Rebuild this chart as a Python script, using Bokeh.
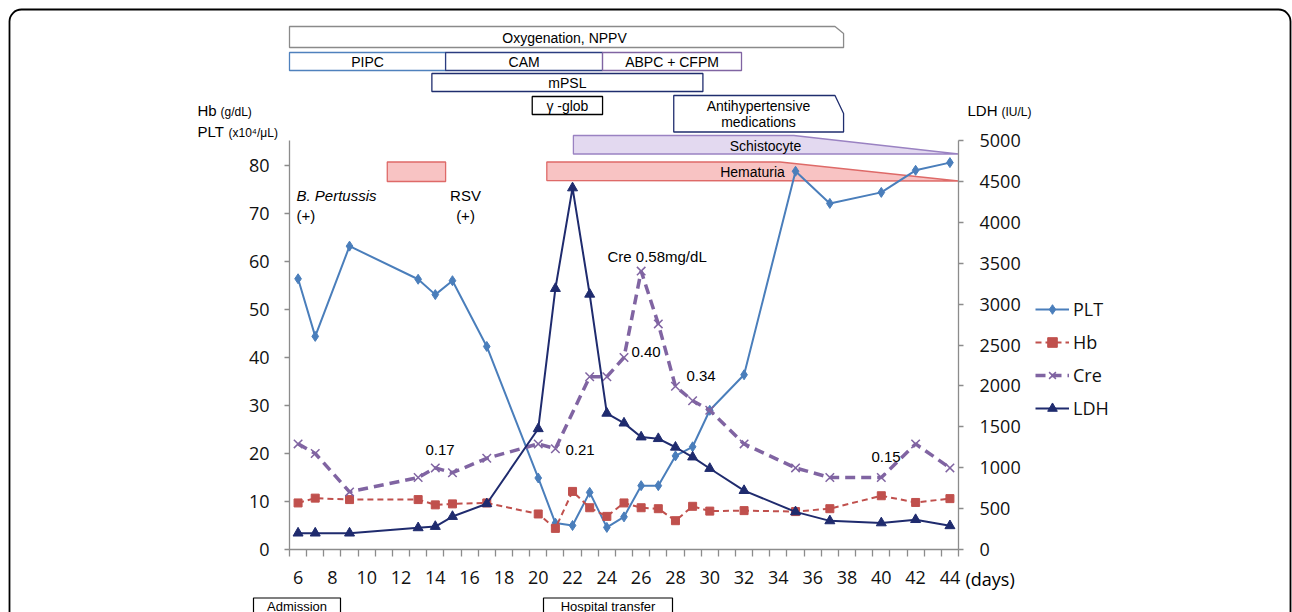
from bokeh.plotting import figure
from bokeh.models import (Range1d, LinearAxis, FixedTicker, Legend, LegendItem,
                          Label, BoxAnnotation)
from bokeh.embed import file_html
from bokeh.resources import INLINE

# ---------------- data ----------------
days_plt = [6, 7, 9, 13, 14, 15, 17, 20, 21, 22, 23, 24, 25, 26, 27, 28, 29, 30, 32, 35, 37, 40, 42, 44]
plt_vals = [56.4, 44.4, 63.2, 56.3, 53.1, 56.0, 42.3, 14.9, 5.5, 5.0, 11.9, 4.6, 6.8, 13.3, 13.3,
            19.5, 21.4, 29.0, 36.4, 78.8, 72.1, 74.4, 79.0, 80.6]

days_hb = [6, 7, 9, 13, 14, 15, 17, 20, 21, 22, 23, 24, 25, 26, 27, 28, 29, 30, 32, 35, 37, 40, 42, 44]
hb_vals = [9.7, 10.7, 10.4, 10.4, 9.3, 9.5, 9.7, 7.4, 4.4, 12.1, 8.7, 6.9, 9.7, 8.7, 8.5,
           6.0, 9.0, 8.0, 8.1, 7.9, 8.5, 11.2, 9.8, 10.6]

days_cre = [6, 7, 9, 13, 14, 15, 17, 20, 21, 23, 24, 25, 26, 27, 28, 29, 30, 32, 35, 37, 40, 42, 44]
cre_vals = [0.22, 0.20, 0.12, 0.15, 0.17, 0.16, 0.19, 0.22, 0.21, 0.36, 0.36, 0.40, 0.58, 0.47,
            0.34, 0.31, 0.29, 0.22, 0.17, 0.15, 0.15, 0.22, 0.17]   # mg/dL, drawn x100 on left axis

days_ldh = [6, 7, 9, 13, 14, 15, 17, 20, 21, 22, 23, 24, 25, 26, 27, 28, 29, 30, 32, 35, 37, 40, 42, 44]
ldh_vals = [200, 200, 200, 265, 281, 403, 559, 1476, 3190, 4420, 3120, 1665, 1545, 1375, 1355,
            1250, 1130, 990, 720, 460, 350, 325, 365, 290]

x_ticks = list(range(6, 45, 2))
left_ticks = list(range(0, 81, 10))
right_ticks = list(range(0, 5001, 500))

# treatment / finding timeline (days)
abx_names = ["PIPC", "CAM", "ABPC + CFPM"]
abx_start = [5.5, 14.6, 23.75]
abx_end = [14.6, 23.75, 31.85]
oxy_start, oxy_end = 5.5, 37.8
mpsl_start, mpsl_end = 13.8, 29.6
glob_start, glob_end = 19.65, 23.75
antihyp_start, antihyp_end = 27.9, 37.8
schisto_start, schisto_full, schisto_end = 22.05, 34.9, 44.5
hema_start, hema_full, hema_end = 20.5, 34.1, 44.5
rsv_start, rsv_end = 11.2, 14.6

# ---------------- layout ----------------
W, H = 1292, 612
AX_L, AX_R, AX_T, AX_B = 289, 958, 140, 549     # page pixels of the axes box
X_LO, X_HI = 5.5, 44.5
PX_DAY = (AX_R - AX_L) / (X_HI - X_LO)
PX_UNIT_L = 4.8
PX_UNIT_R = (AX_B - AX_T) / 5000.0


def X(px):
    return X_LO + (px - AX_L) / PX_DAY


p = figure(width=W, height=H, output_backend="svg", toolbar_location=None,
           x_range=Range1d(X(0), X(W)),
           y_range=Range1d((AX_B - H) / PX_UNIT_L, AX_B / PX_UNIT_L),
           min_border=0, min_border_left=0, min_border_right=0,
           min_border_top=0, min_border_bottom=0)
p.extra_y_ranges = {"ldh": Range1d((AX_B - H) / PX_UNIT_R, AX_B / PX_UNIT_R),
                    "tl": Range1d(H, 0)}
p.outline_line_color = None
p.xgrid.visible = False
p.ygrid.visible = False
p.background_fill_color = "white"
p.border_fill_color = "white"

AX = "#8c8c8c"
TFONT = "Open Sans"

xa = p.xaxis[0]
xa.fixed_location = 0
xa.bounds = (X_LO, X_HI)
xa.ticker = FixedTicker(ticks=x_ticks, minor_ticks=[d + 0.5 for d in range(5, 45)])
xa.axis_line_color = AX
xa.axis_line_width = 1.3
xa.major_tick_out = 0
xa.major_tick_in = 0
xa.minor_tick_out = 7
xa.minor_tick_in = 0
xa.minor_tick_line_color = AX
xa.minor_tick_line_width = 1.3
xa.major_label_text_font = TFONT
xa.major_label_text_font_size = "18px"
xa.major_label_text_color = "#111111"
xa.major_label_standoff = 14

ya = p.yaxis[0]
ya.fixed_location = X_LO
ya.ticker = FixedTicker(ticks=left_ticks)
ya.bounds = (0, (AX_B - AX_T) / PX_UNIT_L)
ya.major_label_standoff = 15
ry = LinearAxis(y_range_name="ldh", ticker=FixedTicker(ticks=right_ticks), bounds=(0, 5000),
                fixed_location=X_HI)
ry.major_label_standoff = 16
p.add_layout(ry, "right")
for a in (ya, ry):
    a.axis_line_color = AX
    a.axis_line_width = 1.3
    a.major_tick_out = 5
    a.major_tick_in = 0
    a.major_tick_line_color = AX
    a.major_tick_line_width = 1.3
    a.minor_tick_line_color = None
    a.major_label_text_font = TFONT
    a.major_label_text_font_size = "18px"
    a.major_label_text_color = "#111111"

# ---------------- timeline shapes ----------------
def box(x0, x1, y0, y1, line, fill="white", lw=1.3):
    p.patch([x0, x0, x1, x1], [y1, y0, y0, y1], y_range_name="tl",
            fill_color=fill, line_color=line, line_width=lw)


p.patch([oxy_start, oxy_start, oxy_end - 0.5, oxy_end, oxy_end], [47, 26, 26, 33, 47],
        y_range_name="tl", fill_color="white", line_color="#8a8a8a", line_width=1.3)
abx_colors = ["#4F81BD", "#2B3C80", "#8064A2"]
for s, e, c in zip(abx_start, abx_end, abx_colors):
    box(s, e, 52, 70, c)
box(mpsl_start, mpsl_end, 73, 91, "#1F2D6E")
box(glob_start, glob_end, 96, 114, "#000000")
p.patch([antihyp_start, antihyp_start, antihyp_end - 0.5, antihyp_end, antihyp_end],
        [131.5, 95, 95, 113, 131.5], y_range_name="tl",
        fill_color="white", line_color="#1F2D6E", line_width=1.3)
p.patch([schisto_start, schisto_start, schisto_full, schisto_end], [153.5, 135, 135, 153.5],
        y_range_name="tl", fill_color="#E3D9F0", line_color="#9A82C2", line_width=1.3)
p.patch([hema_start, hema_start, hema_full, hema_end], [180, 161.5, 161.5, 180.5],
        y_range_name="tl", fill_color="#F8C3C3", line_color="#DE6A68", line_width=1.3)
box(rsv_start, rsv_end, 161.5, 181, "#DE6A68", fill="#F8C3C3")

# event boxes below the axis
box(X(253), X(340), 597.5, 630, "#000000", lw=1.2)
box(X(543), X(672), 597.5, 630, "#000000", lw=1.2)

# ---------------- series ----------------
C_PLT, C_HB, C_CRE, C_LDH = "#4A7EBB", "#C0504D", "#8064A2", "#1F2B6E"
l_plt = p.line(days_plt, plt_vals, line_color=C_PLT, line_width=2)
s_plt = p.scatter(days_plt, plt_vals, marker="diamond", size=10, fill_color=C_PLT, line_color=C_PLT)
l_hb = p.line(days_hb, hb_vals, line_color=C_HB, line_width=2, line_dash="6 4")
s_hb = p.scatter(days_hb, hb_vals, marker="square", size=8, fill_color=C_HB, line_color=C_HB)
cre_plot = [v * 100 for v in cre_vals]
l_cre = p.line(days_cre, cre_plot, line_color=C_CRE, line_width=3.5, line_dash="10 6")
s_cre = p.scatter(days_cre, cre_plot, marker="x", size=12, line_color=C_CRE, line_width=1.5)
l_ldh = p.line(days_ldh, ldh_vals, y_range_name="ldh", line_color=C_LDH, line_width=2)
s_ldh = p.scatter(days_ldh, ldh_vals, y_range_name="ldh", marker="triangle", size=10,
                  fill_color=C_LDH, line_color=C_LDH)

legend = Legend(items=[LegendItem(label="PLT", renderers=[l_plt, s_plt]),
                       LegendItem(label="Hb", renderers=[l_hb, s_hb]),
                       LegendItem(label="Cre", renderers=[l_cre, s_cre]),
                       LegendItem(label="LDH", renderers=[l_ldh, s_ldh])],
                location=(1035, H - 420), orientation="vertical",
                border_line_color=None, background_fill_alpha=0, padding=0, margin=0,
                glyph_width=34, glyph_height=24, label_height=24, spacing=9,
                label_standoff=4, label_text_font=TFONT, label_text_font_size="18px",
                label_text_color="#111111")
p.add_layout(legend)

# ---------------- texts ----------------
AR = "Liberation Sans"


def lab(txt, px, py, size="14px", align="left", font=AR, style="normal", **kw):
    p.add_layout(Label(x=X(px), y=py, y_range_name="tl", text=txt, text_font=font,
                       text_font_size=size, text_align=align, text_baseline="middle",
                       text_font_style=style, text_color="#000000", **kw))


def dlab(txt, day, py, size="14px"):
    p.add_layout(Label(x=day, y=py, y_range_name="tl", text=txt, text_font=AR,
                       text_font_size=size, text_align="center", text_baseline="middle",
                       text_color="#000000"))


lab("Oxygenation, NPPV", 564, 37, align="center")
for nm, s, e in zip(abx_names, abx_start, abx_end):
    dlab(nm, (s + e) / 2, 61.5)
dlab("mPSL", (mpsl_start + mpsl_end) / 2, 82.5)
dlab("γ -glob", (glob_start + glob_end) / 2, 105)
lab("Antihypertensive", 758, 105, align="center")
lab("medications", 758, 121, align="center")
lab("Schistocyte", 765, 145, align="center")
lab("Hematuria", 752, 171.5, align="center")

lab("B. Pertussis", 296, 195, size="15px", style="italic")
lab("(+)", 296, 215, size="15px")
lab("RSV", 465, 195, size="15px", align="center")
lab("(+)", 465, 215, size="15px", align="center")
lab("Cre 0.58mg/dL", 607, 256, size="15px")
lab("0.40", 631, 351, size="15px")
lab("0.34", 686, 375, size="15px")
lab("0.17", 425, 449, size="15px")
lab("0.21", 565, 449, size="15px")
lab("0.15", 871, 456, size="15px")

lab("Hb", 197, 110, size="15px")
lab("(g/dL)", 220, 111, size="12px")
lab("PLT", 197, 131, size="15px")
lab("(x10⁴/μL)", 228, 132, size="12px")
lab("LDH", 967, 110, size="15px")
lab("(IU/L)", 1001, 111, size="12px")
lab("(days)", 965, 578, size="18px", font=TFONT)

lab("Admission", 296.5, 605.5, size="13px", align="center")
lab("Hospital transfer", 607.5, 605.5, size="13px", align="center")

# outer rounded frame
p.add_layout(BoxAnnotation(left=X(9), right=X(1290), top=9, bottom=700, y_range_name="tl",
                           fill_alpha=0, line_color="black", line_alpha=1.0, line_width=1.8,
                           border_radius=12))

open("out.html", "w").write(file_html(p, INLINE))
